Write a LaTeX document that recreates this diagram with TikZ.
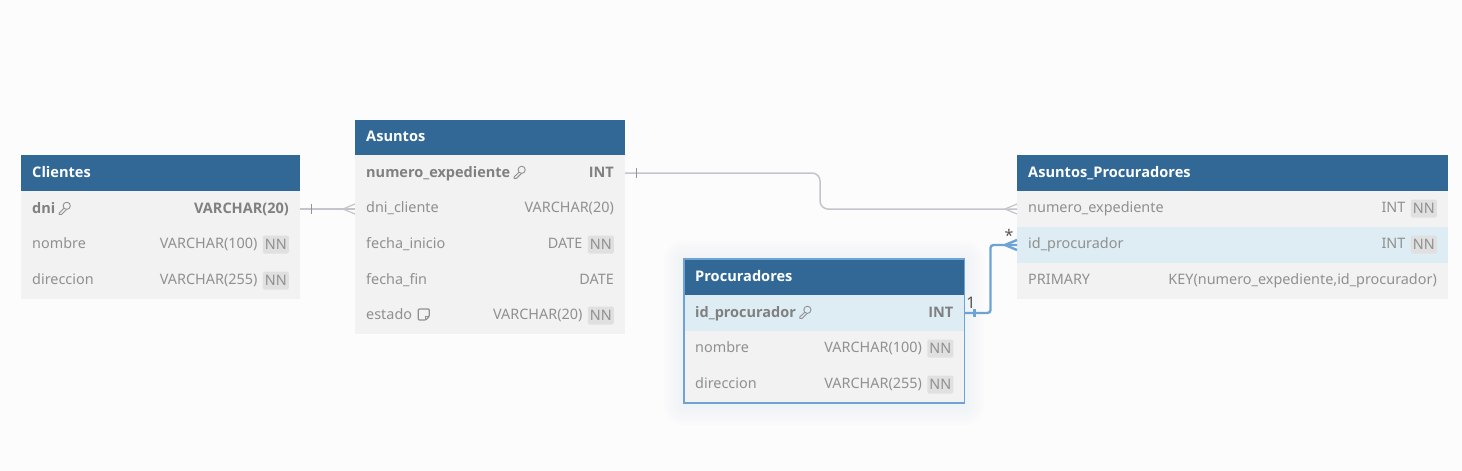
\documentclass[tikz,border=0pt]{standalone}
\usepackage{fontspec}
\setmainfont{Noto Sans}[BoldFont={Open Sans Bold}]
\newfontfamily\boldfam{Open Sans}[BoldFont={Open Sans Bold}]
\usetikzlibrary{calc}
\definecolor{pagebg}{HTML}{FCFCFC}
\definecolor{headblue}{HTML}{316896}
\definecolor{rowbg}{HTML}{F2F2F2}
\definecolor{rowhi}{HTML}{DEECF4}
\definecolor{txtgray}{HTML}{909090}
\definecolor{boldgray}{HTML}{808080}
\definecolor{nnbg}{HTML}{E0E0E0}
\definecolor{conngray}{HTML}{C4C4CC}
\definecolor{connblue}{HTML}{6FA3D6}
\definecolor{labeldark}{HTML}{555555}
\tikzset{
  headbox/.style={fill=headblue,draw=none,anchor=north west,minimum height=36pt,inner sep=0pt,outer sep=0pt},
  rowbox/.style={fill=rowbg,draw=none,anchor=north west,minimum height=36pt,inner sep=0pt,outer sep=0pt},
  hibox/.style={rowbox,fill=rowhi},
  headtxt/.style={font=\boldfam\fontsize{14.6}{16}\selectfont\bfseries,text=white,anchor=base west,inner sep=0pt},
  lefttxt/.style={font=\fontsize{14.4}{16}\selectfont,text=txtgray,anchor=base west,inner sep=0pt},
  righttxt/.style={font=\fontsize{14.4}{16}\selectfont,text=txtgray,anchor=base east,inner sep=0pt},
  boldl/.style={lefttxt,font=\boldfam\fontsize{14.5}{16}\selectfont\bfseries,text=boldgray},
  boldr/.style={righttxt,font=\boldfam\fontsize{14.5}{16}\selectfont\bfseries,text=boldgray},
  nnbadge/.style={fill=nnbg,rounded corners=1.5pt,anchor=east,minimum width=26pt,minimum height=18pt,inner sep=0pt,
    font=\fontsize{14.4}{16}\selectfont,text=txtgray},
  conn/.style={draw=conngray,line width=1.5pt},
  connthin/.style={draw=conngray!75!black,line width=0.8pt},
  connhi/.style={draw=connblue,line width=2.4pt},
  connhitick/.style={draw=connblue,line width=2.4pt},
  iconline/.style={draw=txtgray,line width=0.9pt,line join=round},
  cardlabel/.style={font=\fontsize{16}{16}\selectfont,text=labeldark,inner sep=0pt},
}
% name, x, y, width, title
\newcommand{\tblhead}[5]{%
  \node[headbox,minimum width=#4 pt] (#1) at (#2,#3) {};
  \node[headtxt] (#1t) at ($(#1.west)+(11,4)$) {#5};
}
% name, x, y, width, box style
\newcommand{\tblrow}[5]{\node[#5,minimum width=#4 pt] (#1) at (#2,#3) {};}
% name, left text, right text
\newcommand{\rowplain}[3]{%
  \node[lefttxt] (#1l) at ($(#1.west)+(11,3.5)$) {#2};
  \node[righttxt] (#1r) at ($(#1.east)+(-11,3.5)$) {#3};
}
\newcommand{\rowbold}[3]{%
  \node[boldl] (#1l) at ($(#1.west)+(11,4)$) {#2};
  \node[boldr] (#1r) at ($(#1.east)+(-11,4)$) {#3};
}
\newcommand{\rownn}[3]{%
  \node[lefttxt] (#1l) at ($(#1.west)+(11,3.5)$) {#2};
  \node[nnbadge] (#1n) at ($(#1.east)+(-11,-0.5)$) {NN};
  \node[righttxt] (#1r) at ($(#1n.west)+(-5,4)$) {#3};
}
% key icon placed after the left text of a row
\newcommand{\keyicon}[1]{%
  \begin{scope}[shift={($(#1l.base east)+(3,-5)$)}]
    \draw[iconline] (8.2,-2.2) circle (3.6pt);
    \draw[iconline] (5.6,0.2) -- (0.6,5) -- (0.6,6.4) -- (3,6.4) -- (7.8,1.6);
  \end{scope}
}
\newcommand{\noteicon}[1]{%
  \begin{scope}[shift={($(#1l.base east)+(6,-5)$)}]
    \draw[iconline,line width=1.2pt,rounded corners=1pt] (0,-5.5) -- (11,-5.5) -- (11,2) -- (7.5,5.5) -- (0,5.5) -- cycle;
    \draw[iconline,line width=1.2pt] (11,2) -- (7.5,2) -- (7.5,5.5);
  \end{scope}
}
\begin{document}
\begin{tikzpicture}[x=1pt,y=-1pt]
\useasboundingbox (0,0) rectangle (1462,471);
\fill[pagebg] (0,0) rectangle (1462,471);

% glow round the selected table
\foreach \g in {20,17,14,11,8,5,2}{
  \fill[connblue,opacity=0.011,rounded corners=\g pt] (684-\g,259-\g+2) rectangle (964+\g,403+\g+2);
}

% Clientes
\tblhead{cli}{21}{155}{279}{Clientes}
\tblrow{clia}{21}{191}{279}{rowbox}
\tblrow{clib}{21}{227}{279}{rowbox}
\tblrow{clic}{21}{263}{279}{rowbox}
\rowbold{clia}{dni}{VARCHAR(20)}
\rownn{clib}{nombre}{VARCHAR(100)}
\rownn{clic}{direccion}{VARCHAR(255)}
\keyicon{clia}

% Asuntos
\tblhead{asu}{355}{119.5}{270}{Asuntos}
\tblrow{asua}{355}{155}{270}{rowbox}
\tblrow{asub}{355}{191}{270}{rowbox}
\tblrow{asuc}{355}{227}{270}{rowbox}
\tblrow{asud}{355}{263}{270}{rowbox}
\tblrow{asue}{355}{298}{270}{rowbox}
\rowbold{asua}{numero\_expediente}{INT}
\rowplain{asub}{dni\_cliente}{VARCHAR(20)}
\rownn{asuc}{fecha\_inicio}{DATE}
\rowplain{asud}{fecha\_fin}{DATE}
\rownn{asue}{estado}{VARCHAR(20)}
\keyicon{asua}
\noteicon{asue}

% Procuradores
\tblhead{pro}{684}{259}{280.5}{Procuradores}
\tblrow{proa}{684}{295}{280.5}{hibox}
\tblrow{prob}{684}{331}{280.5}{rowbox}
\tblrow{proc}{684}{367}{280.5}{rowbox}
\rowbold{proa}{id\_procurador}{INT}
\rownn{prob}{nombre}{VARCHAR(100)}
\rownn{proc}{direccion}{VARCHAR(255)}
\keyicon{proa}
\draw[connblue,line width=1.6pt] (pro.north west) rectangle (proc.south east);

% Asuntos_Procuradores
\tblhead{apr}{1017}{155}{431}{Asuntos\_Procuradores}
\tblrow{apra}{1017}{191}{431}{rowbox}
\tblrow{aprb}{1017}{227}{431}{hibox}
\tblrow{aprc}{1017}{263}{431}{rowbox}
\rownn{apra}{numero\_expediente}{INT}
\rownn{aprb}{id\_procurador}{INT}
\rowplain{aprc}{PRIMARY}{KEY(numero\_expediente,id\_procurador)}

% Clientes -- Asuntos
\draw[conn] (clia.east) -- (asub.west);
\draw[connthin] ($(clia.east)+(11,-5)$) -- ($(clia.east)+(11,5)$);
\draw[conn,line width=1.2pt] ($(asub.west)+(-12,0)$) -- ($(asub.west)+(0,-5)$);
\draw[conn,line width=1.2pt] ($(asub.west)+(-12,0)$) -- ($(asub.west)+(0,5)$);

% Asuntos -- Asuntos_Procuradores
\coordinate (bendA) at (820,191);
\draw[conn,rounded corners=8pt] (asua.east) -- (asua.east -| bendA) -- (apra.west -| bendA) -- (apra.west);
\draw[connthin] ($(asua.east)+(11,-5)$) -- ($(asua.east)+(11,5)$);
\draw[conn,line width=1.2pt] ($(apra.west)+(-12,0)$) -- ($(apra.west)+(0,-5)$);
\draw[conn,line width=1.2pt] ($(apra.west)+(-12,0)$) -- ($(apra.west)+(0,5)$);

% Procuradores -- Asuntos_Procuradores (highlighted)
\coordinate (bendB) at (990.5,280);
\draw[connhi,rounded corners=3pt] (proa.east) -- (proa.east -| bendB) -- (aprb.west -| bendB) -- (aprb.west);
\draw[connhitick] ($(proa.east)+(10,-4)$) -- ($(proa.east)+(10,4)$);
\draw[connhitick] ($(aprb.west)+(-12,0)$) -- ($(aprb.west)+(0,-5)$);
\draw[connhitick] ($(aprb.west)+(-12,0)$) -- ($(aprb.west)+(0,5)$);
\node[cardlabel] (card1) at ($(proa.east)+(6.5,-10)$) {1};
\node[cardlabel] (cardm) at ($(aprb.west)+(-8,-10)$) {*};
\end{tikzpicture}
\end{document}
